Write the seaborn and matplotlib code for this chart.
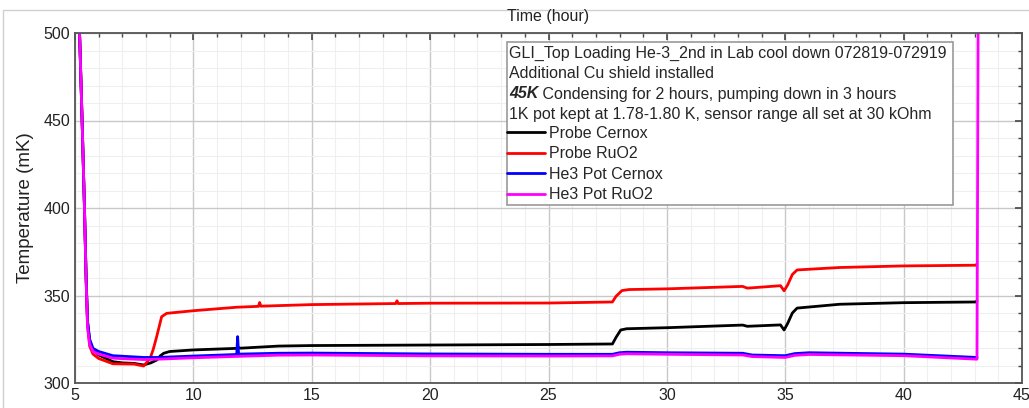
import numpy as np
import pandas as pd
import matplotlib
matplotlib.use("Agg")
import matplotlib.pyplot as plt
from matplotlib.patches import Rectangle
from matplotlib.lines import Line2D
from matplotlib.ticker import MultipleLocator
import seaborn as sns

# Values (time in hours, temperature in mK)
probe_cernox_t = [5.15, 5.3, 5.4, 5.47, 5.53, 5.62, 5.76, 6.0, 6.6, 7.0, 7.5, 7.9, 8.2, 8.45, 8.6, 8.75,
                  9.0, 10.0, 11.83, 11.9, 12.0, 13.6, 15.0, 20.0, 25.0, 27.7, 27.85, 28.05, 28.3,
                  30.0, 33.2, 33.4, 34.8, 34.95, 35.1, 35.3, 35.5, 37.3, 40.0, 43.05, 43.1]
probe_cernox_v = [520, 450, 400, 360, 335, 324, 318.9, 316, 312.2, 311.5, 311.2, 310.3, 311.5, 313.1, 315.5, 317,
                  318, 318.9, 319.8, 320.2, 319.9, 321.1, 321.4, 321.7, 322.0, 322.3, 326, 330.3, 331,
                  331.6, 333.1, 332.4, 333.2, 330.3, 334, 340, 342.8, 345.0, 345.9, 346.3, 347]

probe_ruo2_t = [5.15, 5.3, 5.4, 5.47, 5.53, 5.62, 5.76, 6.0, 6.6, 7.0, 7.5, 7.9, 8.17, 8.3, 8.45, 8.66, 8.87,
                10.0, 11.83, 12.75, 12.8, 12.85, 15.0, 18.55, 18.6, 18.65, 20.0, 25.0, 27.7, 27.85, 28.1, 28.4,
                30.0, 33.2, 33.4, 34.8, 34.95, 35.1, 35.3, 35.5, 37.3, 40.0, 43.05, 43.1]
probe_ruo2_v = [520, 450, 400, 360, 333, 321, 316.5, 314, 311, 310.9, 310.8, 309.7, 314, 319, 326.5, 337.9, 339.8,
                341.3, 343.3, 343.8, 346.0, 343.9, 344.8, 345.4, 347.0, 345.4, 345.6, 345.7, 346.3, 349.5, 352.8, 353.4,
                353.8, 355.2, 354.2, 355.6, 352.7, 356, 362, 364.6, 366.0, 366.9, 367.3, 368]

he3_cernox_t = [5.15, 5.3, 5.4, 5.47, 5.53, 5.62, 5.76, 6.0, 6.6, 7.0, 7.9, 8.5, 10.0, 11.83, 11.87, 11.91,
                13.6, 15.0, 20.0, 25.0, 27.7, 28.0, 28.3, 30.0, 33.2, 33.6, 35.0, 35.4, 36.0, 40.0, 43.1]
he3_cernox_v = [520, 450, 400, 360, 335, 325, 319.8, 318, 315.6, 315.3, 314.6, 314.6, 315.4, 316.3, 326.5, 316.5,
                317.0, 317.1, 316.6, 316.4, 316.4, 317.3, 317.6, 317.3, 317.0, 316.0, 315.6, 316.8, 317.3, 316.5, 314.6]

he3_ruo2_t = [5.15, 5.3, 5.4, 5.47, 5.53, 5.62, 5.76, 6.0, 6.6, 7.0, 7.9, 8.5, 10.0, 11.83,
              13.6, 15.0, 20.0, 25.0, 27.7, 28.0, 28.3, 30.0, 33.2, 33.6, 35.0, 35.4, 36.0, 40.0, 43.1, 43.15]
he3_ruo2_v = [520, 450, 400, 358, 332, 322, 318, 316.5, 314.2, 313.9, 313.4, 313.6, 314.4, 315.2,
              315.9, 316.0, 315.5, 315.4, 315.5, 316.4, 316.7, 316.4, 316.0, 315.1, 314.6, 315.8, 316.3, 315.6, 313.6, 520]

series_names = ["Probe Cernox", "Probe RuO2", "He3 Pot Cernox", "He3 Pot RuO2"]
series_colors = ["#000000", "#ff0000", "#0000ff", "#ff00ff"]

header_lines = ["GLI_Top Loading He-3_2nd in Lab cool down 072819-072919",
                "Additional Cu shield installed",
                None,
                "1K pot kept at 1.78-1.80 K, sensor range all set at 30 kOhm"]

frames = []
for name, t, v in zip(series_names,
                      [probe_cernox_t, probe_ruo2_t, he3_cernox_t, he3_ruo2_t],
                      [probe_cernox_v, probe_ruo2_v, he3_cernox_v, he3_ruo2_v]):
    frames.append(pd.DataFrame({"time": t, "temp": v, "sensor": name}))
df = pd.concat(frames, ignore_index=True)

sns.set_style("white")
plt.rcParams["font.family"] = ["Liberation Sans", "DejaVu Sans"]

fig = plt.figure(figsize=(10.29, 4.08), dpi=100)
ax = fig.add_axes([75 / 1029, 25 / 408, 947 / 1029, 350 / 408])

sns.lineplot(data=df, x="time", y="temp", hue="sensor", hue_order=series_names,
             palette=series_colors, sort=False, estimator=None, linewidth=2.0,
             legend=False, ax=ax)

ax.set_xlim(5, 45)
ax.set_ylim(300, 500)
ax.xaxis.set_major_locator(MultipleLocator(5))
ax.xaxis.set_minor_locator(MultipleLocator(1))
ax.yaxis.set_major_locator(MultipleLocator(50))
ax.yaxis.set_minor_locator(MultipleLocator(10))
ax.grid(which="major", color="#c8c8c8", linewidth=1.0)
ax.grid(which="minor", color="#efefef", linewidth=0.8)
ax.set_axisbelow(True)
ax.tick_params(which="both", direction="in", top=True, right=True, colors="#444444",
               labelcolor="#222222", labelsize=11.5)
ax.tick_params(which="major", length=5, width=1.2)
ax.tick_params(which="minor", length=3, width=1.0)
for sp in ax.spines.values():
    sp.set_color("#555555")
    sp.set_linewidth(1.3)
ax.set_xlabel("")
ax.set_ylabel("Temperature (mK)", fontsize=13.5, color="#222222", labelpad=7)

# annotation box with header text and legend
bx0, bx1 = (507 - 75) / 947, (953 - 75) / 947
by0, by1 = (383 - 205) / 350, (383 - 42) / 350
ax.add_patch(Rectangle((bx0, by0), bx1 - bx0, by1 - by0, transform=ax.transAxes,
                       facecolor="white", edgecolor="#999999", linewidth=1.2, zorder=5))
tx = (509 - 75) / 947
line_y = [(383 - 53) / 350, (383 - 73) / 350, (383 - 94) / 350, (383 - 114) / 350]
fs = 11.5
for txt, yy in zip(header_lines, line_y):
    if txt is None:
        bold = ax.text(tx, yy, "45K", transform=ax.transAxes, fontsize=fs, fontweight="bold",
                       fontstyle="italic", va="center", ha="left", zorder=6)
        ax.annotate(" Condensing for 2 hours, pumping down in 3 hours", xy=(1, 0.5),
                    xycoords=bold, va="center", ha="left", fontsize=fs, zorder=6)
    else:
        ax.text(tx, yy, txt, transform=ax.transAxes, fontsize=fs, va="center", ha="left", zorder=6)

handles = [Line2D([], [], color=c, linewidth=2.0) for c in series_colors]
leg = ax.legend(handles, series_names, loc="upper left",
                bbox_to_anchor=(bx0, (383 - 126) / 350), frameon=False, fontsize=fs,
                handlelength=2.35, handletextpad=0.3, borderpad=0.0, borderaxespad=0.0,
                labelspacing=0.34)
leg.set_zorder(7)

fig.text(548 / 1029, 1 - 17 / 408, "Time (hour)", ha="center", va="center", fontsize=11.5,
         color="#222222")
fig.add_artist(Rectangle((3 / 1029, -0.1), 1.2, 1 - 10 / 408 + 0.1, transform=fig.transFigure,
                         facecolor="none", edgecolor="#d0d0d0", linewidth=1.0))

fig.savefig("out.png", dpi=100)
